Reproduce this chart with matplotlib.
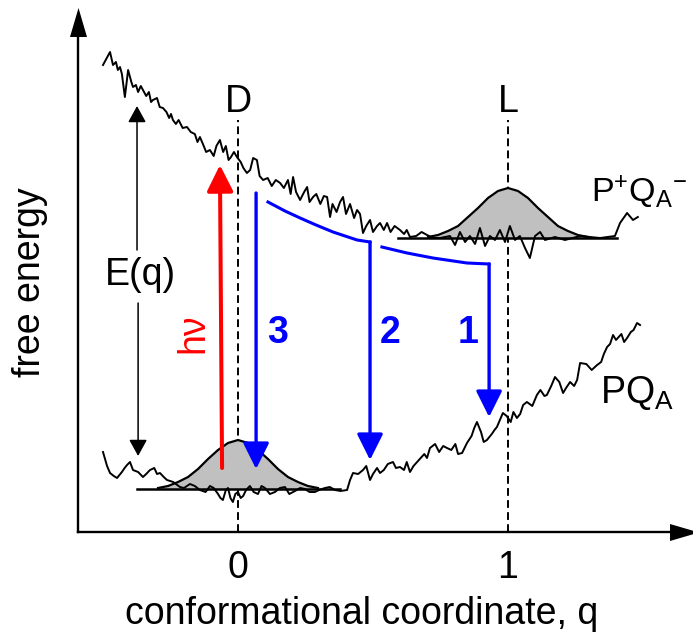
import matplotlib
matplotlib.use('Agg')
import matplotlib.pyplot as plt

plt.rcParams['font.family'] = ['Liberation Sans', 'DejaVu Sans']
plt.rcParams['mathtext.fontset'] = 'custom'
plt.rcParams['mathtext.rm'] = 'Liberation Sans'
plt.rcParams['mathtext.it'] = 'Liberation Sans:italic'
plt.rcParams['mathtext.bf'] = 'Liberation Sans:bold'

# --- data (q = conformational coordinate, E = free energy, arbitrary units)
# upper surface P+QA-, (q, E) readings
upper_pts = [(-0.500, 467), (-0.474, 480), (-0.463, 467), (-0.452, 470), (-0.445, 462),
             (-0.437, 465), (-0.430, 458), (-0.419, 435), (-0.407, 462), (-0.400, 455),
             (-0.395, 450), (-0.389, 445), (-0.378, 447), (-0.370, 440), (-0.360, 446),
             (-0.352, 442), (-0.340, 436), (-0.330, 440), (-0.322, 430), (-0.315, 432),
             (-0.300, 434), (-0.290, 425), (-0.278, 424), (-0.265, 420), (-0.255, 414),
             (-0.248, 418), (-0.241, 412), (-0.230, 408), (-0.220, 412), (-0.205, 404),
             (-0.189, 405), (-0.175, 400), (-0.160, 398), (-0.150, 390), (-0.141, 395),
             (-0.130, 388), (-0.118, 380), (-0.104, 382), (-0.090, 376), (-0.080, 386),
             (-0.067, 392), (-0.055, 380), (-0.045, 386), (-0.035, 372), (-0.026, 375),
             (-0.015, 380), (-0.004, 375), (0.010, 370), (0.020, 364), (0.033, 359),
             (0.045, 362), (0.056, 374), (0.070, 372), (0.080, 356), (0.093, 352),
             (0.110, 354), (0.125, 346), (0.140, 352), (0.156, 349), (0.170, 344),
             (0.185, 352), (0.195, 338), (0.204, 355), (0.215, 340), (0.230, 332),
             (0.245, 340), (0.256, 345), (0.265, 330), (0.278, 335), (0.290, 338),
             (0.305, 328), (0.318, 336), (0.330, 335), (0.341, 315), (0.350, 328),
             (0.365, 320), (0.378, 330), (0.389, 335), (0.400, 318), (0.415, 328),
             (0.430, 314), (0.441, 322), (0.452, 318), (0.463, 299), (0.475, 306),
             (0.489, 312), (0.500, 300), (0.515, 306), (0.526, 309), (0.540, 302),
             (0.552, 309), (0.565, 300), (0.580, 306), (0.600, 302), (0.615, 298),
             (0.625, 302), (0.637, 295), (0.660, 296), (0.680, 300), (0.700, 297),
             (0.722, 294), (0.748, 294), (0.785, 296), (0.804, 287), (0.822, 300),
             (0.841, 290), (0.859, 296), (0.878, 288), (0.896, 304), (0.915, 286),
             (0.933, 296), (0.952, 292), (0.970, 302), (0.989, 290), (1.007, 306),
             (1.026, 292), (1.044, 296), (1.063, 284), (1.081, 274), (1.100, 296),
             (1.119, 300), (1.137, 292), (1.174, 295), (1.211, 292), (1.267, 296),
             (1.341, 294), (1.396, 296), (1.415, 309), (1.441, 319), (1.463, 312),
             (1.481, 315)]

# lower surface PQA, (q, E) readings
lower_pts = [(-0.500, 80), (-0.485, 66), (-0.474, 59), (-0.460, 56), (-0.448, 54),
             (-0.430, 60), (-0.420, 64), (-0.411, 67), (-0.400, 70), (-0.389, 62),
             (-0.370, 60), (-0.352, 55), (-0.340, 58), (-0.326, 62), (-0.310, 64),
             (-0.300, 58), (-0.289, 59), (-0.275, 55), (-0.263, 52), (-0.240, 50),
             (-0.225, 47), (-0.215, 45), (-0.200, 44), (-0.178, 48), (-0.160, 46),
             (-0.141, 42), (-0.120, 40), (-0.104, 46), (-0.090, 44), (-0.074, 38),
             (-0.065, 34), (-0.056, 32), (-0.045, 42), (-0.037, 44), (-0.028, 34),
             (-0.019, 30), (-0.010, 38), (0.000, 40), (0.010, 34), (0.019, 36),
             (0.030, 42), (0.044, 46), (0.058, 40), (0.074, 38), (0.087, 46),
             (0.100, 44), (0.118, 38), (0.137, 40), (0.155, 44), (0.174, 45),
             (0.190, 38), (0.211, 41), (0.230, 44), (0.248, 43), (0.265, 40),
             (0.285, 40), (0.300, 42), (0.322, 44), (0.340, 45), (0.359, 42),
             (0.380, 41), (0.404, 42), (0.415, 52), (0.426, 59), (0.445, 58),
             (0.463, 62), (0.475, 66), (0.489, 52), (0.500, 58), (0.515, 64),
             (0.526, 59), (0.540, 62), (0.555, 68), (0.574, 70), (0.585, 64),
             (0.600, 65), (0.615, 62), (0.625, 70), (0.637, 60), (0.650, 66),
             (0.670, 72), (0.690, 78), (0.700, 74), (0.711, 84), (0.730, 88),
             (0.745, 80), (0.760, 86), (0.774, 84), (0.790, 82), (0.805, 88),
             (0.815, 78), (0.830, 79), (0.848, 89), (0.865, 96), (0.875, 104),
             (0.885, 110), (0.900, 100), (0.910, 90), (0.922, 92), (0.940, 98),
             (0.950, 102), (0.959, 105), (0.970, 112), (0.981, 119), (0.995, 116),
             (1.010, 110), (1.020, 120), (1.033, 114), (1.045, 118), (1.056, 127),
             (1.070, 130), (1.090, 126), (1.107, 137), (1.120, 142), (1.135, 136),
             (1.144, 137), (1.160, 146), (1.174, 155), (1.190, 150), (1.204, 139),
             (1.215, 144), (1.230, 150), (1.245, 146), (1.256, 152), (1.267, 169),
             (1.290, 168), (1.310, 162), (1.330, 167), (1.345, 170), (1.355, 178),
             (1.367, 185), (1.378, 188), (1.389, 197), (1.400, 192), (1.420, 198),
             (1.430, 190), (1.441, 194), (1.455, 200), (1.465, 202), (1.478, 209),
             (1.489, 207)]

# population distributions
hump_dq = [-0.296, -0.259, -0.222, -0.185, -0.148, -0.111, -0.074, -0.037, 0.0,
           0.037, 0.074, 0.111, 0.148, 0.185, 0.222, 0.259, 0.296]
hump_up_E = [295, 297, 301, 306, 315, 324, 334, 341, 344, 341, 334, 324, 315, 306, 301, 297, 295]
hump_lo_E = [44, 46, 50, 55, 63, 73, 82, 89, 92, 89, 82, 73, 63, 55, 50, 46, 44]
up_center, up_base, up_span = 1.0, 294, (0.593, 1.404)
lo_center, lo_base, lo_span = 0.0, 43, (-0.374, 0.378)

# relaxation path of P+QA- and recombination arrows
relax_a_q = [0.111, 0.174, 0.230, 0.289, 0.352, 0.441, 0.489]
relax_a_E = [330, 321, 314, 307, 300, 292, 290]
relax_b_q = [0.533, 0.626, 0.722, 0.848, 0.930]
relax_b_E = [285, 279, 274, 269, 268]
recomb_q = [0.067, 0.489, 0.930]
recomb_top = [339, 290, 268]
recomb_tip = [63, 72, 115]
recomb_lbl = ['3', '2', '1']
recomb_lbl_q = [0.148, 0.563, 0.852]

upper_q, upper_E = zip(*sorted(upper_pts))
lower_q, lower_E = zip(*sorted(lower_pts))

fig = plt.figure(figsize=(6.93, 6.36), dpi=100)
ax = fig.add_axes([0.112554, 0.163522, 0.875180, 0.801101])
ax.set_xlim(-0.5926, 1.6537)
ax.set_ylim(0, 509.5)
for s in ['top', 'right']:
    ax.spines[s].set_visible(False)
for s in ['left', 'bottom']:
    ax.spines[s].set_linewidth(1.7)
ax.set_xticks([0, 1], ['0', '1'])
ax.set_yticks([])
ax.tick_params(axis='x', length=0, pad=13, labelsize=27)
ax.set_xlabel('conformational coordinate, q', fontsize=27)
ax.xaxis.set_label_coords(0.467, -0.125)
ax.set_ylabel('free energy', fontsize=27)
ax.yaxis.set_label_coords(-0.05, 0.49)

# axis arrow heads
ax.plot(1, 0, marker=[(-1, -0.586), (1, 0), (-1, 0.586)], ms=20.9, mew=0, color='k',
        transform=ax.transAxes, clip_on=False)
ax.plot(0, 1, marker=[(-0.586, -1), (0, 1), (0.586, -1)], ms=20.9, mew=0, color='k',
        transform=ax.transAxes, clip_on=False)

# D and L positions
for qc, lab in [(0, 'D'), (1, 'L')]:
    ax.plot([qc, qc], [0, 412], color='k', lw=1.4, ls=(0, (4, 2.2)), zorder=1)
    ax.text(qc, 430, lab, fontsize=27, ha='center', va='center')

# distributions
for c, base, span, hE in [(up_center, up_base, up_span, hump_up_E),
                          (lo_center, lo_base, lo_span, hump_lo_E)]:
    hq = [c + d for d in hump_dq]
    ax.fill_between(hq, base, hE, color='#c0c0c0', lw=0, zorder=2)
    ax.plot(hq, hE, color='k', lw=1.6, zorder=3)
    ax.plot(span, [base, base], color='k', lw=1.8, zorder=3)

# free energy surfaces
ax.plot(upper_q, upper_E, color='k', lw=1.4, zorder=4)
ax.plot(lower_q, lower_E, color='k', lw=1.4, zorder=4)
ax.text(1.308, 330, 'P$^{+}$Q$_{\\mathrm{A}}$$^{-}$', fontsize=24.5, ha='left', va='baseline')
ax.text(1.341, 129, 'PQ$_{\\mathrm{A}}$', fontsize=27, ha='left', va='baseline')

# E(q) double arrow
eq_arrow = dict(arrowstyle='-|>,head_length=1.0,head_width=0.55', color='k', lw=1.1,
                mutation_scale=10, shrinkA=0, shrinkB=0)
ax.annotate('', xy=(-0.374, 426), xytext=(-0.374, 282), arrowprops=eq_arrow)
ax.annotate('', xy=(-0.370, 76), xytext=(-0.370, 229), arrowprops=eq_arrow)
ax.text(-0.363, 257, 'E(q)', fontsize=27, ha='center', va='center')

# excitation
ax.annotate('', xy=(-0.067, 367), xytext=(-0.059, 64),
            arrowprops=dict(arrowstyle='-|>,head_length=0.8,head_width=0.4', color='#ff0000',
                            lw=2.9, mutation_scale=20, shrinkA=0, shrinkB=0), zorder=5)
ax.text(-0.167, 199, 'h\u03bd', color='#ff0000', fontsize=27, rotation=90,
        ha='center', va='center')

# relaxation and recombination
ax.plot(relax_a_q, relax_a_E, color='#0000ff', lw=2.2, zorder=5)
ax.plot(relax_b_q, relax_b_E, color='#0000ff', lw=2.2, zorder=5)
for q, top, tip, lab, lq in zip(recomb_q, recomb_top, recomb_tip, recomb_lbl, recomb_lbl_q):
    ax.annotate('', xy=(q, tip), xytext=(q, top),
                arrowprops=dict(arrowstyle='-|>,head_length=0.8,head_width=0.4', color='#0000ff',
                                lw=2.4, mutation_scale=20, shrinkA=0, shrinkB=0), zorder=5)
    ax.text(lq, 199, lab, color='#0000ff', fontsize=27, fontweight='bold',
            ha='center', va='center')

fig.savefig('out.png', dpi=100)
